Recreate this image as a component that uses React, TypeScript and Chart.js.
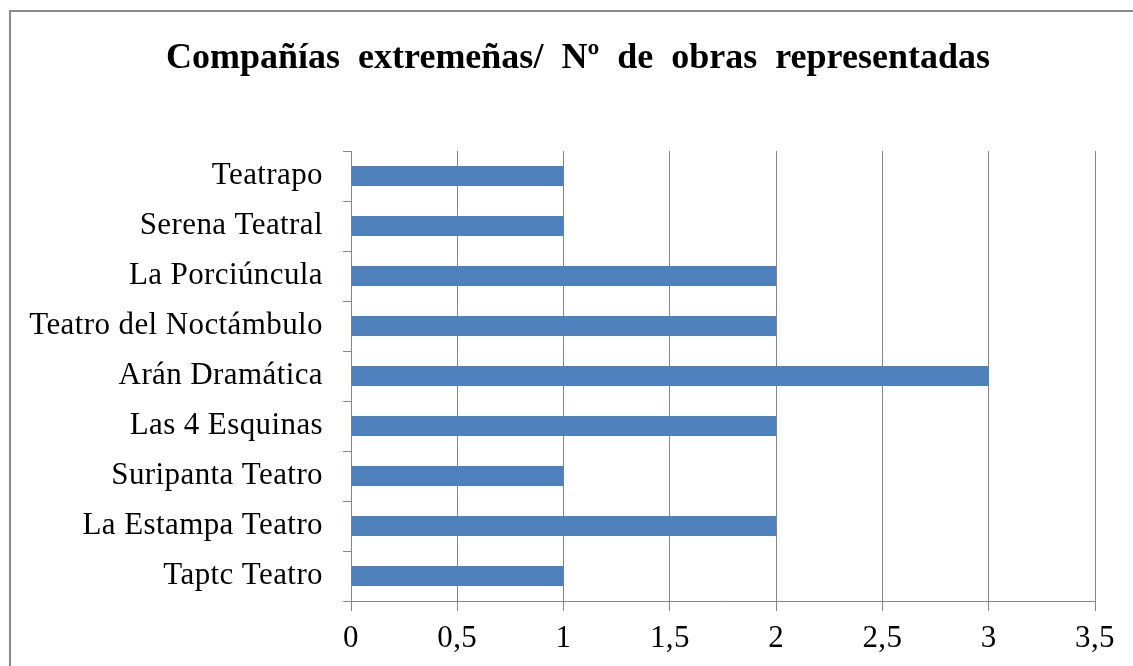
import React, { useEffect, useRef } from "react";
import { Chart, registerables } from "chart.js";

Chart.register(...registerables);

const TITLE = "Compañías extremeñas/ Nº de obras representadas";
const categories = [
  "Teatrapo",
  "Serena Teatral",
  "La Porciúncula",
  "Teatro del Noctámbulo",
  "Arán Dramática",
  "Las 4 Esquinas",
  "Suripanta Teatro",
  "La Estampa Teatro",
  "Taptc Teatro",
];
const values = [1, 1, 2, 2, 3, 2, 1, 2, 1];
const xMax = 3.5;
const xStep = 0.5;

const GRID = "#868686";
const BAR = "#4F81BD";
const FONT = "'Liberation Serif', 'Times New Roman', serif";

const titlePlugin = {
  id: "customTitle",
  beforeDraw(chart: any) {
    const ctx = chart.ctx as any;
    try {
      ctx.letterSpacing = "0.4px";
    } catch (e) {}
  },
  afterDraw(chart: any) {
    const ctx = chart.ctx as any;
    ctx.save();
    ctx.font = `bold 36px ${FONT}`;
    ctx.fillStyle = "#000";
    ctx.textAlign = "center";
    ctx.textBaseline = "alphabetic";
    try {
      ctx.letterSpacing = "0px";
      ctx.wordSpacing = "9px";
    } catch (e) {}
    ctx.fillText(TITLE, chart.width / 2, 56);
    ctx.restore();
    try {
      ctx.letterSpacing = "0px";
    } catch (e) {}
  },
};

export default function App() {
  const ref = useRef<HTMLCanvasElement | null>(null);
  useEffect(() => {
    if (!ref.current) return;
    const chart = new Chart(ref.current, {
      type: "bar",
      data: {
        labels: categories,
        datasets: [
          {
            data: values,
            backgroundColor: BAR,
            borderWidth: 0,
            barPercentage: 0.4,
            categoryPercentage: 1,
          },
        ],
      },
      options: {
        indexAxis: "y",
        animation: false,
        responsive: false,
        maintainAspectRatio: false,
        layout: { padding: { top: 139, left: 0, right: 50, bottom: 0 } },
        plugins: {
          legend: { display: false },
          title: { display: false },
          tooltip: { enabled: false },
        },
        scales: {
          x: {
            min: 0,
            max: xMax,
            ticks: {
              stepSize: xStep,
              color: "#000",
              font: { family: FONT, size: 31 },
              padding: 9,
              callback: (v: any) => String(v).replace(".", ","),
            },
            grid: {
              color: GRID,
              lineWidth: 1,
              drawTicks: true,
              tickLength: 10,
            },
            border: { color: GRID, width: 1 },
            afterFit: (s: any) => {
              s.height = 91;
            },
          },
          y: {
            ticks: {
              color: "#000",
              font: { family: FONT, size: 31 },
              padding: 20,
            },
            grid: {
              color: GRID,
              offset: true,
              drawOnChartArea: false,
              drawTicks: true,
              tickLength: 8,
            },
            border: { color: GRID, width: 1 },
            afterFit: (s: any) => {
              s.width = 340;
            },
          },
        },
      },
      plugins: [titlePlugin],
    });
    return () => chart.destroy();
  }, []);

  return (
    <div
      style={{
        position: "fixed",
        left: 0,
        top: 0,
        width: 1133,
        height: 666,
        overflow: "hidden",
        background: "#fff",
      }}
    >
      <div
        style={{
          position: "absolute",
          left: 9,
          top: 10,
          border: "2px solid #8a8a8a",
          width: 1134,
          height: 680,
        }}
      >
        <canvas ref={ref} width={1134} height={680} style={{ display: "block" }} />
      </div>
    </div>
  );
}
